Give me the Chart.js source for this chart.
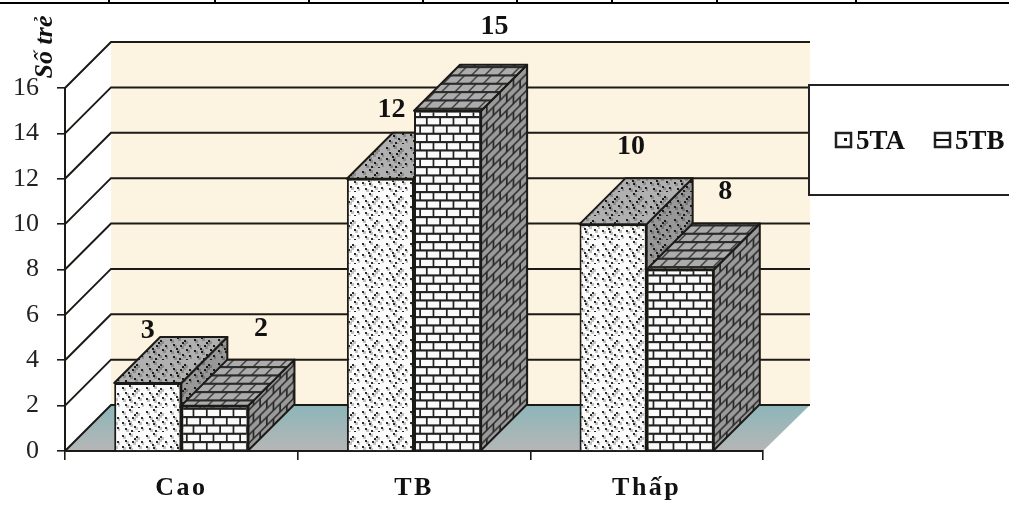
<!DOCTYPE html>
<html>
<head>
<meta charset="utf-8">
<script src="https://cdn.jsdelivr.net/npm/chart.js@4"></script>
<style>
  body { margin: 0; background: #fff; }
  /* the original is a soft scan */
  canvas { display: block; filter: blur(0.4px); }
</style>
</head>
<body>
<canvas id="chart" width="1009" height="505"></canvas>
<script>
var categories = ['Cao', 'TB', 'Thấp'];
var series5TA = [3, 12, 10];
var series5TB = [2, 15, 8];
var yTicks = [0, 2, 4, 6, 8, 10, 12, 14, 16];

var DEPTH = 46;
var LINE = '#1c1a16';
var SERIF = '"Liberation Serif", serif';

// [dx, dy] of each value label from the top middle of its bar
var labelOffsets5TA = [[0, -52], [11, -69], [18, -77]];
var labelOffsets5TB = [[46, -77], [47, -84], [45, -78]];
// the table rule of the page this chart was scanned from
var tableTicks = [109, 215, 309, 423, 517, 612, 717, 856];

function tile(w, h, draw) {
    var c = document.createElement('canvas');
    c.width = w;
    c.height = h;
    draw(c.getContext('2d'));
    return c;
}

function brickTile(brick, mortar) {
    return tile(40, 50, function (g) {
        g.fillStyle = mortar;
        g.fillRect(0, 0, 40, 50);
        g.fillStyle = brick;
        for (var r = 0; r < 6; r++) {
            var y = r * 50 / 6 + 1.5;
            var shift = r % 2 ? 6.67 : 0;
            for (var k = -1; k < 4; k++) {
                g.fillRect(k * 13.33 + shift + 1, y, 11.6, 6.2);
            }
        }
    });
}

function dotTile(base, dot, extra) {
    return tile(24, 24, function (g) {
        g.fillStyle = base;
        g.fillRect(0, 0, 24, 24);
        var spots = [[2, 3], [9, 1], [16, 4], [21, 9], [5, 8], [12, 9], [18, 13], [2, 14],
                     [9, 15], [14, 18], [21, 19], [5, 20], [11, 22], [18, 23], [14, 6], [8, 12]];
        g.fillStyle = extra;
        spots.forEach(function (s) { g.fillRect(s[0] + 1, s[1] + 1, 3, 3); });
        g.fillStyle = dot;
        spots.forEach(function (s) { g.fillRect(s[0], s[1], 2, 2); });
    });
}

var canvas = document.getElementById('chart');
var ctx = canvas.getContext('2d');

var faces = [
    {
        front: ctx.createPattern(dotTile('#fbfbfb', '#2c2c2c', '#c4c4c4'), 'repeat'),
        top: ctx.createPattern(dotTile('#b0b0b0', '#1a1a1a', '#8c8c8c'), 'repeat'),
        side: ctx.createPattern(dotTile('#989898', '#1a1a1a', '#777'), 'repeat')
    },
    {
        front: ctx.createPattern(brickTile('#fafafa', '#222'), 'repeat'),
        top: ctx.createPattern(brickTile('#acacac', '#2a2a2a'), 'repeat'),
        side: ctx.createPattern(brickTile('#9a9a9a', '#2a2a2a'), 'repeat')
    }
];
// lean the brick courses along the receding faces
faces[1].top.setTransform(new DOMMatrix([1, 0, -1, 1, 0, 0]));
faces[1].side.setTransform(new DOMMatrix([1, -1, 0, 1, 0, 0]));

function poly(g, pts, fill) {
    g.beginPath();
    g.moveTo(pts[0][0], pts[0][1]);
    for (var i = 1; i < pts.length; i++) g.lineTo(pts[i][0], pts[i][1]);
    g.closePath();
    if (fill) {
        g.fillStyle = fill;
        g.fill();
    }
    g.stroke();
}

var room = {
    id: 'room',
    beforeDraw: function (chart) {
        var g = chart.ctx, a = chart.chartArea, y = chart.scales.y;
        var backRight = a.right + DEPTH + 1;

        // the category labels are set wide in the original
        var xScale = chart.scales.x;
        if (!xScale.spaced) {
            var drawLabels = xScale.drawLabels;
            xScale.drawLabels = function (area) {
                g.letterSpacing = '2.5px';
                drawLabels.call(xScale, area);
                g.letterSpacing = '0px';
            };
            xScale.spaced = true;
        }

        g.save();

        // page table rule
        g.fillStyle = '#000';
        g.fillRect(0, 2, chart.width, 2);
        tableTicks.forEach(function (x) { g.fillRect(x - 1, 0, 2, 3); });

        // back wall
        g.fillStyle = '#fcf4e0';
        g.fillRect(a.left + DEPTH, y.getPixelForValue(16) - DEPTH, backRight - a.left - DEPTH,
            y.getPixelForValue(0) - y.getPixelForValue(16));

        // floor
        var grad = g.createLinearGradient(0, a.bottom - DEPTH, 0, a.bottom);
        grad.addColorStop(0, '#8cb6ba');
        grad.addColorStop(1, '#b6b6b6');
        g.strokeStyle = 'rgba(0,0,0,0)';
        poly(g, [[a.left, a.bottom], [a.left + DEPTH, a.bottom - DEPTH],
                 [backRight, a.bottom - DEPTH], [a.right, a.bottom]], grad);

        // grid on the side and back walls
        g.strokeStyle = LINE;
        g.lineWidth = 2;
        yTicks.forEach(function (v) {
            var py = y.getPixelForValue(v);
            g.beginPath();
            g.moveTo(a.left, py);
            g.lineTo(a.left + DEPTH, py - DEPTH);
            g.lineTo(backRight, py - DEPTH);
            g.stroke();
        });
        g.restore();
    },
    // tops and sides go in left to right so the right bar hides the left one,
    // the library then paints the front faces over them
    beforeDatasetsDraw: function (chart) {
        var g = chart.ctx;
        g.save();
        g.strokeStyle = LINE;
        g.lineWidth = 2;
        g.lineJoin = 'round';
        faces.forEach(function (f, i) {
            chart.getDatasetMeta(i).data.forEach(function (bar) {
                var l = bar.x - bar.width / 2, r = bar.x + bar.width / 2, t = bar.y, b = bar.base;
                poly(g, [[r, t], [r + DEPTH, t - DEPTH], [r + DEPTH, b - DEPTH], [r, b]], f.side);
                poly(g, [[l, t], [l + DEPTH, t - DEPTH], [r + DEPTH, t - DEPTH], [r, t]], f.top);
            });
        });
        g.restore();
    },
    afterDraw: function (chart) {
        var g = chart.ctx;
        g.save();
        g.fillStyle = '#111';
        g.textAlign = 'center';
        g.textBaseline = 'middle';

        // value labels
        g.font = 'bold 28px ' + SERIF;
        [labelOffsets5TA, labelOffsets5TB].forEach(function (offsets, i) {
            chart.getDatasetMeta(i).data.forEach(function (bar, k) {
                var value = chart.data.datasets[i].data[k];
                g.fillText(String(value), bar.x + offsets[k][0], bar.y + offsets[k][1]);
            });
        });

        // axis title
        g.save();
        g.translate(45, 47);
        g.rotate(-Math.PI / 2);
        g.font = 'italic bold 26px ' + SERIF;
        g.fillText('Số trẻ', 0, 0);
        g.restore();

        // legend box
        g.fillStyle = '#fff';
        g.strokeStyle = '#222';
        g.lineWidth = 2;
        g.fillRect(809, 85, 201, 110);
        g.strokeRect(809, 85, 201, 110);

        var swatchX = [836, 935], labelX = [856, 955];
        g.textAlign = 'left';
        g.font = 'bold 27px ' + SERIF;
        chart.data.datasets.forEach(function (ds, i) {
            g.fillStyle = '#fff';
            g.lineWidth = 2.5;
            g.fillRect(swatchX[i], 133, 15, 14);
            g.strokeRect(swatchX[i], 133, 15, 14);
            g.fillStyle = '#111';
            if (i === 0) {
                g.fillRect(swatchX[i] + 8, 138, 3, 3);
            } else {
                g.fillRect(swatchX[i], 139, 15, 2);
            }
            g.fillText(ds.label, labelX[i], 142);
        });
        g.restore();
    }
};

new Chart(canvas, {
    type: 'bar',
    data: {
        labels: categories,
        datasets: [
            { label: '5TA', data: series5TA, backgroundColor: faces[0].front },
            { label: '5TB', data: series5TB, backgroundColor: faces[1].front }
        ]
    },
    plugins: [room],
    options: {
        responsive: false,
        animation: false,
        layout: { padding: { left: 0, right: 246, top: 88, bottom: 0 } },
        datasets: {
            bar: {
                categoryPercentage: 0.577,
                barPercentage: 1,
                borderColor: LINE,
                borderWidth: 2
            }
        },
        plugins: {
            legend: { display: false },
            tooltip: { enabled: false }
        },
        scales: {
            x: {
                afterFit: function (scale) { scale.height = 54; },
                grid: { drawOnChartArea: false, color: LINE, tickLength: 9, lineWidth: 1.6 },
                border: { color: LINE, width: 2 },
                ticks: {
                    color: '#111',
                    padding: 13,
                    font: { family: SERIF, size: 26, weight: 'bold' }
                }
            },
            y: {
                min: 0,
                max: 16,
                afterFit: function (scale) { scale.width = 65; },
                afterBuildTicks: function (scale) {
                    scale.ticks = yTicks.map(function (v) { return { value: v }; });
                },
                grid: { drawOnChartArea: false, color: LINE, tickLength: 8, lineWidth: 1.6 },
                border: { color: LINE, width: 2 },
                ticks: {
                    color: '#222',
                    padding: 18,
                    font: { family: SERIF, size: 26 }
                }
            }
        }
    }
});
</script>
</body>
</html>
